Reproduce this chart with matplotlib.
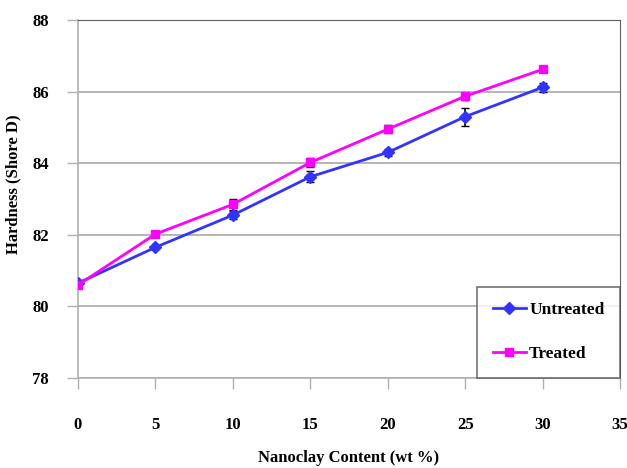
import matplotlib
matplotlib.use("Agg")
import matplotlib.pyplot as plt
from matplotlib.lines import Line2D

nanoclay = [0, 5, 10, 15, 20, 25, 30]
untreated = [80.65, 81.65, 82.55, 83.62, 84.3, 85.3, 86.12]
untreated_err = [0.1, 0.05, 0.12, 0.15, 0.1, 0.25, 0.12]
treated = [80.6, 82.02, 82.85, 84.02, 84.95, 85.87, 86.62]
treated_err = [0.08, 0.05, 0.15, 0.12, 0.12, 0.1, 0.05]

plt.rcParams["font.family"] = ["Liberation Serif", "DejaVu Serif"]
plt.rcParams["font.weight"] = "bold"

fig = plt.figure(figsize=(6.27, 4.68), dpi=100)
ax = fig.add_axes([0.1244, 0.1923, 0.8645, 0.7650])

blue = "#3333ff"
pink = "#ff00ff"
ax.errorbar(nanoclay, untreated, yerr=untreated_err, color=blue, marker="D",
            markersize=6, linewidth=2, ecolor="black", elinewidth=1.2, capsize=3,
            zorder=3)
ax.errorbar(nanoclay, treated, yerr=treated_err, color=pink, marker="s",
            markersize=6, linewidth=2, ecolor="black", elinewidth=1.2, capsize=3,
            zorder=3)

ax.set_xlim(0, 35)
ax.set_ylim(78, 88)
ax.set_xticks(range(0, 36, 5))
ax.set_yticks(range(78, 89, 2))
ax.grid(axis="y", color="#a8a8a8", linewidth=1.2)
ax.set_axisbelow(True)

for side in ["left", "bottom"]:
    ax.spines[side].set_color("#b0b0b0")
    ax.spines[side].set_linewidth(1.2)
ax.spines["top"].set_color("#606060")
ax.spines["right"].set_color("#606060")

ax.tick_params(axis="x", direction="out", length=8, width=1, color="#b0b0b0",
               pad=20, labelsize=12)
ax.tick_params(axis="y", direction="out", length=8, width=1, color="#b0b0b0",
               pad=13, labelsize=12)

ax.set_xlabel("Nanoclay Content (wt %)", fontsize=12, fontweight="bold")
ax.set_ylabel("Hardness (Shore D)", fontsize=12, fontweight="bold")
ax.xaxis.set_label_coords(0.5, -0.2)
ax.yaxis.set_label_coords(-0.105, 0.54)

handles = [
    Line2D([], [], color=blue, marker="D", markersize=6, linewidth=2),
    Line2D([], [], color=pink, marker="s", markersize=6, linewidth=2),
]
leg = ax.legend(handles, ["Untreated", "Treated"], loc="lower right", fontsize=12.5,
                frameon=True, fancybox=False, edgecolor="#505050",
                borderaxespad=0, labelspacing=1.6, handlelength=1.9,
                borderpad=0.9, handletextpad=0.2)
leg.get_frame().set_linewidth(1.2)

fig.savefig("out.png", dpi=100)
